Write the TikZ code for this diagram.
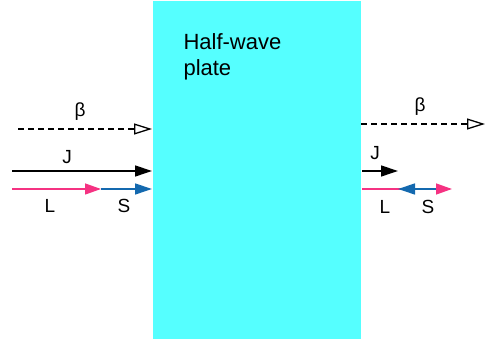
\documentclass[tikz,border=0pt]{standalone}
\usepackage{fontspec}
\setmainfont{Liberation Sans}
\usetikzlibrary{arrows.meta}
\definecolor{platecyan}{RGB}{85,255,255}
\definecolor{lpink}{RGB}{245,50,130}
\definecolor{sblue}{RGB}{20,105,175}
\begin{document}
\begin{tikzpicture}[x=1pt,y=-1pt,
    lbl/.style={font=\fontsize{19}{22}\selectfont},
    betaline/.style={line width=1.3pt, dash pattern=on 6pt off 4pt, -{Triangle[open, length=18pt, width=11pt]}},
    jline/.style={line width=1.3pt, -{Triangle[length=17pt, width=11pt]}},
    lline/.style={line width=1.3pt, lpink, -{Triangle[length=16pt, width=11pt]}},
    sline/.style={line width=1.3pt, sblue, -{Triangle[length=17pt, width=11pt]}}]
    \useasboundingbox (0,0) rectangle (485,344);

    % The plate
    \fill[platecyan] (153,1) rectangle (361,339);
    \node[lbl, font=\fontsize{22}{26}\selectfont, anchor=north west, align=left] (plate) at (180,30) {Half-wave\\plate};

    % Incoming beam (left)
    \coordinate (b1) at (18,129);
    \coordinate (b2) at (152,129);
    \draw[betaline] (b1) -- (b2);
    \node[lbl] (beta1) at (80,112) {β};

    \coordinate (j1) at (12,171);
    \coordinate (j2) at (152,171);
    \draw[jline] (j1) -- (j2);
    \node[lbl] (J1) at (67,157) {J};

    \coordinate (l1) at (12,189);
    \coordinate (l2) at (101,189);
    \coordinate (s2) at (152,189);
    \draw[sline] (l2) -- (s2);
    \draw[lline] (l1) -- (l2);
    \node[lbl] (L1) at (50,206) {L};
    \node[lbl] (S1) at (124,206) {S};

    % Outgoing beam (right)
    \coordinate (b3) at (361,124);
    \coordinate (b4) at (485,124);
    \draw[betaline] (b3) -- (b4);
    \node[lbl] (beta2) at (420,107) {β};

    \coordinate (j3) at (362,171);
    \coordinate (j4) at (398,171);
    \draw[jline] (j3) -- (j4);
    \node[lbl] (J2) at (375,153) {J};

    \coordinate (l3) at (362,189);
    \coordinate (l4) at (452,189);
    \coordinate (s3) at (436,189);
    \coordinate (s4) at (398,189);
    \draw[lline] (l3) -- (l4);
    \draw[sline] (s3) -- (s4);
    \node[lbl] (L2) at (385,207) {L};
    \node[lbl] (S2) at (428,207) {S};
\end{tikzpicture}
\end{document}
